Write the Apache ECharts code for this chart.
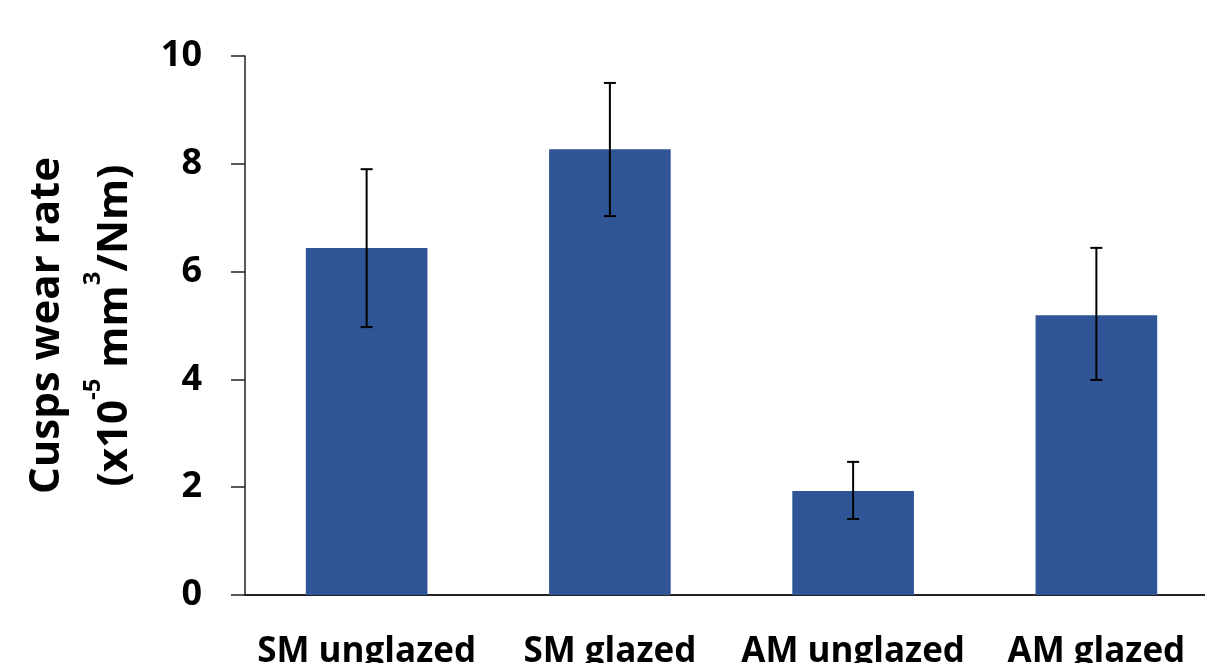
<!DOCTYPE html>
<html>
<head>
<meta charset="utf-8">
<script src="https://cdn.jsdelivr.net/npm/echarts@6/dist/echarts.min.js"></script>
<style>
  html, body { margin: 0; padding: 0; background: #ffffff; }
  #chart { width: 1205px; height: 663px; }
</style>
</head>
<body>
<div id="chart"></div>
<script>
// Cusp wear rate per material / surface finish (x10^-5 mm^3/Nm)
const categories = ['SM unglazed', 'SM glazed', 'AM unglazed', 'AM glazed'];
const meanRate = [6.44, 8.27, 1.93, 5.19];
const errLow = [4.97, 7.03, 1.41, 3.99];
const errHigh = [7.90, 9.50, 2.47, 6.44];
const yTicks = [0, 2, 4, 6, 8, 10];

const FONT = '"Open Sans", sans-serif';

const errorData = categories.map((c, i) => [i, errLow[i], errHigh[i]]);

const chart = echarts.init(document.getElementById('chart'), null, { renderer: 'canvas' });

chart.setOption({
  animation: false,
  backgroundColor: '#ffffff',
  grid: { left: 245, right: -13, top: 56, bottom: 68, containLabel: false, outerBoundsMode: 'none' },
  xAxis: {
    type: 'category',
    data: categories,
    axisLine: { show: true, lineStyle: { color: '#222222', width: 2 } },
    axisTick: { show: false },
    axisLabel: {
      color: '#000000', fontFamily: FONT, fontWeight: 'bold', fontSize: 35,
      margin: 40, interval: 0
    }
  },
  yAxis: {
    type: 'value',
    min: yTicks[0],
    max: yTicks[yTicks.length - 1],
    interval: 2,
    splitLine: { show: false },
    axisLine: { show: true, lineStyle: { color: '#222222', width: 1.5 } },
    axisTick: { show: true, length: 14, lineStyle: { color: '#222222', width: 1.5 } },
    axisLabel: {
      color: '#000000', fontFamily: FONT, fontWeight: 'bold', fontSize: 36, margin: 43
    },
    name: '{t|Cusps wear rate}\n{t|(x10}{s|-5}{t| mm}{s|3}{t|/Nm)}',
    nameLocation: 'middle',
    nameGap: 96,
    nameRotate: 90,
    nameTextStyle: {
      color: '#000000',
      rich: {
        t: { fontFamily: FONT, fontWeight: 'bold', fontSize: 42, lineHeight: 68 },
        s: { fontFamily: FONT, fontWeight: 'bold', fontSize: 24, lineHeight: 54, verticalAlign: 'top' }
      }
    }
  },
  series: [
    {
      type: 'bar',
      data: meanRate,
      barWidth: '50%',
      itemStyle: { color: '#2F5597' }
    },
    {
      type: 'custom',
      data: errorData,
      z: 10,
      renderItem: function (params, api) {
        const x = api.value(0);
        const lo = api.coord([x, api.value(1)]);
        const hi = api.coord([x, api.value(2)]);
        const cap = 6;
        const style = { stroke: '#000000', lineWidth: 2 };
        return {
          type: 'group',
          children: [
            { type: 'line', shape: { x1: hi[0], y1: hi[1], x2: lo[0], y2: lo[1] }, style: style },
            { type: 'line', shape: { x1: hi[0] - cap, y1: hi[1], x2: hi[0] + cap, y2: hi[1] }, style: style },
            { type: 'line', shape: { x1: lo[0] - cap, y1: lo[1], x2: lo[0] + cap, y2: lo[1] }, style: style }
          ]
        };
      }
    }
  ]
});
</script>
</body>
</html>
